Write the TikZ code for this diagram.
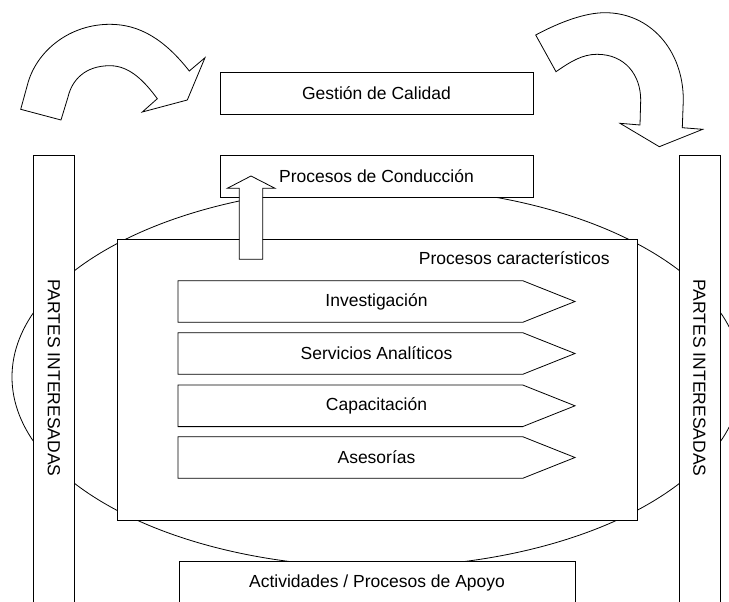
\documentclass[tikz,border=0pt]{standalone}
\usepackage{fontspec}
\setmainfont{Liberation Sans}
\begin{document}
\begin{tikzpicture}[x=1pt,y=-1pt,line width=0.8pt,
  lbl/.style={font=\fontsize{17.5}{20}\selectfont,inner sep=0pt},
  shapefill/.style={draw=black,fill=white,line join=miter},
  boxnode/.style={draw=black,fill=white,inner sep=0pt,outer sep=0pt,
    font=\fontsize{17.5}{20}\selectfont}]
\clip (0,0) rectangle (729,602);

% process landscape ellipse
\draw (377,377) ellipse [x radius=365pt, y radius=190pt];

% stakeholder bars
\draw[shapefill] (33.3,155.7) rectangle (74.3,612);
\draw[shapefill] (679,155.7) rectangle (720,612);
\node[lbl,rotate=-90] (pl) at (53.8,378) {PARTES INTERESADAS};
\node[lbl,rotate=-90] (pr) at (699.5,378) {PARTES INTERESADAS};

% top boxes
\node[boxnode,minimum width=313pt,minimum height=42pt] (gc) at (376.5,93) {Gestión de Calidad};
\node[boxnode,minimum width=313pt,minimum height=42pt] (pc) at (376.5,176.5) {Procesos de Conducción};

% characteristic processes frame
\draw[shapefill] (117,239) rectangle (637,520);
\node[lbl,anchor=east] (pcar) at (610,258) {Procesos característicos};

% pentagon process arrows
\foreach \yy/\nm/\txt in {280.7/inv/Investigación, 332.7/ser/Servicios Analíticos,
                         385/cap/Capacitación, 436.7/ase/Asesorías}{
  \draw[shapefill] (178,\yy) -- (522.7,\yy) -- (575,\yy+20.8) -- (522.7,\yy+41.6)
     -- (178,\yy+41.6) -- cycle;
  \node[lbl] (\nm) at (376.5,\yy+20.8) {\txt};
}

% support activities box
\node[boxnode,minimum width=396pt,minimum height=60pt,anchor=north,text depth=0pt] (apo) at (377,561) {};
\node[lbl] (apot) at (377,583) {Actividades / Procesos de Apoyo};

% upward arrow into the conduction box
\draw[shapefill] (239.3,259.3) -- (239.3,188.3) -- (227.3,188.3) -- (251,176)
  -- (275,188.3) -- (262.7,188.3) -- (262.7,259.3) -- cycle;

% curved arrow on the left
\draw[shapefill] (20.7,109.3) -- (28.3,81.7)
  .. controls (38,50) and (70,24.3) .. (110,24.3)
  .. controls (140,24.3) and (165,40) .. (189.3,71)
  -- (205,57.7) -- (187.3,100) -- (142.3,112) -- (157.3,98.7)
  .. controls (145,82) and (130,65.7) .. (110,65.7)
  .. controls (85,65.7) and (72,80) .. (68,97)
  -- (61,120) -- cycle;

% curved arrow on the right
\draw[shapefill] (535.7,35)
  .. controls (560,22) and (585,12.7) .. (605,12.7)
  .. controls (650,12.7) and (683.3,50) .. (683.3,100)
  -- (682.3,127.7) -- (702.7,129.3) -- (659.3,146.7) -- (620,123.3) -- (640,125)
  -- (640.7,100)
  .. controls (640.7,75) and (625,54.3) .. (597,54.3)
  .. controls (582,54.3) and (570,62) .. (556,71.7)
  -- cycle;
\end{tikzpicture}
\end{document}
